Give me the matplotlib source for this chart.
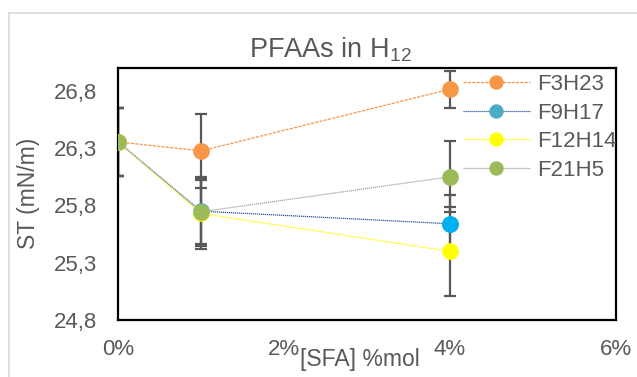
import matplotlib
matplotlib.use("Agg")
import matplotlib.pyplot as plt
from matplotlib.lines import Line2D

plt.rcParams['font.family'] = ['Liberation Sans', 'DejaVu Sans']
plt.rcParams['mathtext.fontset'] = 'custom'
plt.rcParams['mathtext.rm'] = 'Liberation Sans'
plt.rcParams['mathtext.it'] = 'Liberation Sans'

# ---- data ----
x_pct = [0, 1, 4]
series_names = ["F3H23", "F9H17", "F12H14", "F21H5"]
f3h23 = [26.355, 26.276, 26.815]
f3h23_err = [0.30, 0.32, 0.16]
f9h17 = [26.355, 25.75, 25.64]
f9h17_err = [0.30, 0.30, 0.25]
f12h14 = [26.355, 25.73, 25.40]
f12h14_err = [0.30, 0.31, 0.39]
f21h5 = [26.355, 25.745, 26.05]
f21h5_err = [0.30, 0.28, 0.31]
x_ticks = [0, 2, 4, 6]
y_ticks = [24.8, 25.3, 25.8, 26.3, 26.8]

values = [f3h23, f9h17, f12h14, f21h5]
errors = [f3h23_err, f9h17_err, f12h14_err, f21h5_err]
marker_colors = ["#F79646", "#4BACC6", "#FFFF00", "#9BBB59"]
line_colors = ["#F79646", "#2F5597", "#FFFF00", "#A5A5A5"]
line_styles = [(0, (2.5, 1)), (0, (1, 0.6)), (0, (1, 0.6)), (0, (1, 0.6))]

TXT = "#595959"

fig = plt.figure(figsize=(6.37, 3.77), dpi=100)
ax = fig.add_axes([118/637, 1-320/377, (616-118)/637, (320-68)/377])

# error bars first (under markers)
for v, e in zip(values, errors):
    ax.errorbar(x_pct, v, yerr=e, fmt='none', ecolor=TXT, elinewidth=1.6,
                capsize=4.5, capthick=1.6, zorder=2)

handles = []
for name, v, mc, lc, ls in zip(series_names, values, marker_colors, line_colors, line_styles):
    h, = ax.plot(x_pct, v, linestyle=ls, color=lc, linewidth=0.9,
                 marker='o', markersize=11, markerfacecolor=mc,
                 markeredgecolor=mc, label=name, zorder=3)
    handles.append(h)

# special colour of the F9H17 point at 4%
ax.plot(x_pct[2:], f9h17[2:], linestyle='none', marker='o', markersize=11,
        markerfacecolor="#00B0F0", markeredgecolor="#00B0F0", zorder=3)

ax.set_xlim(0, 6)
ax.set_ylim(24.8, 27.0)
ax.set_xticks(x_ticks)
ax.set_xticklabels([f"{t}%" for t in x_ticks])
ax.set_yticks(y_ticks)
ax.set_yticklabels([f"{t:.1f}".replace('.', ',') for t in y_ticks])
ax.tick_params(axis='both', length=0, labelsize=16, labelcolor=TXT)
ax.tick_params(axis='x', pad=14)
ax.tick_params(axis='y', pad=15)
for s in ax.spines.values():
    s.set_linewidth(1.6)
    s.set_color('black')

leg = ax.legend(handles=handles, loc='upper left',
                bbox_to_anchor=(463/637, 1-74/377), bbox_transform=fig.transFigure,
                frameon=False, fontsize=16, handlelength=3.0, handletextpad=0.35,
                labelspacing=0.34, borderpad=0, borderaxespad=0, markerscale=0.85)
for t in leg.get_texts():
    t.set_color(TXT)

fig.text(330/637, 1-57/377, "PFAAs in H$_{12}$", ha='center', va='baseline',
         fontsize=19.5, color=TXT)
fig.text(28/637, 1-193/377, "ST (mN/m)", rotation=90, ha='center', va='center',
         fontsize=16.5, color=TXT)
fig.text(360/637, 1-366/377, "[SFA] %mol", ha='center', va='baseline',
         fontsize=16.5, color=TXT)

# chart area border
fig.add_artist(Line2D([9/637, 9/637], [0, 1-13/377], transform=fig.transFigure,
                      color="#D9D9D9", linewidth=1.2))
fig.add_artist(Line2D([9/637, 1], [1-13/377, 1-13/377], transform=fig.transFigure,
                      color="#D9D9D9", linewidth=1.2))

fig.savefig("out.png", dpi=100)
